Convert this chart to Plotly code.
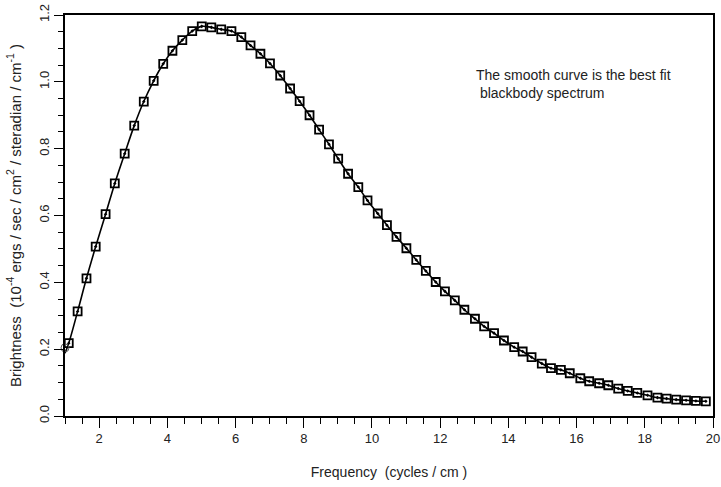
import plotly.graph_objects as go

# Measured spectrum (frequency in cycles/cm, brightness in 1e-4 erg/s/cm^2/sr/cm^-1)
freq = [1.11, 1.37, 1.63, 1.90, 2.19, 2.46, 2.75, 3.03, 3.31, 3.60,
        3.88, 4.15, 4.44, 4.73, 5.01, 5.29, 5.58, 5.88, 6.17, 6.44,
        6.73, 7.01, 7.31, 7.60, 7.88, 8.17, 8.45, 8.74, 9.01, 9.30,
        9.60, 9.87, 10.17, 10.44, 10.72, 11.01, 11.30, 11.58, 11.87, 12.14,
        12.43, 12.71, 13.02, 13.29, 13.58, 13.87, 14.17, 14.42, 14.68, 14.98,
        15.25, 15.54, 15.80, 16.11, 16.37, 16.66, 16.93, 17.22, 17.50, 17.78,
        18.08, 18.37, 18.64, 18.92, 19.21, 19.50, 19.79]
bright = [0.218, 0.313, 0.412, 0.507, 0.604, 0.696, 0.785, 0.869, 0.941, 1.003,
          1.054, 1.093, 1.125, 1.152, 1.166, 1.163, 1.157, 1.152, 1.134, 1.109,
          1.084, 1.055, 1.019, 0.980, 0.942, 0.900, 0.857, 0.813, 0.770, 0.725,
          0.685, 0.645, 0.606, 0.571, 0.536, 0.502, 0.467, 0.434, 0.401, 0.373,
          0.346, 0.318, 0.291, 0.268, 0.248, 0.226, 0.206, 0.193, 0.176, 0.157,
          0.143, 0.138, 0.128, 0.113, 0.104, 0.098, 0.092, 0.082, 0.075, 0.069,
          0.062, 0.055, 0.052, 0.049, 0.047, 0.045, 0.044]

# Best-fit smooth curve (starts at the axis)
fit_x = [1.0] + freq
fit_y = [0.188] + bright

# First point drawn as an open circle at the axis
first_x = [1.0]
first_y = [0.204]

xticks = [2, 4, 6, 8, 10, 12, 14, 16, 18, 20]
yticks = [0.0, 0.2, 0.4, 0.6, 0.8, 1.0, 1.2]

font_family = "Liberation Sans, Arial, sans-serif"

fig = go.Figure()
fig.add_trace(go.Scatter(x=fit_x, y=fit_y, mode="lines",
                         line=dict(color="black", width=1.6, shape="spline"),
                         showlegend=False, hoverinfo="skip"))
fig.add_trace(go.Scatter(x=freq, y=bright, mode="markers",
                         marker=dict(symbol="square-open-dot", size=8, color="black",
                                     line=dict(width=1.8, color="black")),
                         showlegend=False))
fig.add_trace(go.Scatter(x=first_x, y=first_y, mode="markers",
                         marker=dict(symbol="circle-open", size=8, color="#555555",
                                     line=dict(width=1)),
                         showlegend=False, cliponaxis=False))

fig.add_annotation(x=13.0, y=1.05, xref="x", yref="y", xanchor="left", yanchor="top",
                   text="The smooth curve is the best fit<br> blackbody spectrum",
                   showarrow=False, align="left",
                   font=dict(family=font_family, size=14, color="#222222"))

fig.update_layout(
    width=721, height=487,
    margin=dict(l=65, r=8, t=15, b=71, autoexpand=False),
    paper_bgcolor="white", plot_bgcolor="white",
    font=dict(family=font_family, size=13, color="#222222"),
    xaxis=dict(range=[1, 20], tickvals=xticks, ticktext=[str(v) for v in xticks],
               automargin=False,
               showgrid=False, zeroline=False,
               showline=True, linecolor="black", linewidth=1.5, mirror=True,
               ticks="outside", ticklen=10, tickwidth=1.3, tickcolor="black",
               minor=dict(dtick=0.5, tick0=0, ticks="outside", ticklen=6,
                          tickwidth=1.1, tickcolor="black", showgrid=False),
               tickfont=dict(size=13),
               title=dict(text="Frequency  (cycles / cm )", standoff=22,
                          font=dict(size=14))),
    yaxis=dict(range=[0, 1.2], tickvals=yticks, ticktext=[f"{v:.1f}" for v in yticks],
               tickangle=-90, automargin=False,
               showgrid=False, zeroline=False,
               showline=True, linecolor="black", linewidth=1.5, mirror=True,
               ticks="outside", ticklen=9, tickwidth=1.3, tickcolor="black",
               minor=dict(dtick=0.05, tick0=0, ticks="outside", ticklen=5,
                          tickwidth=1.1, tickcolor="black", showgrid=False),
               tickfont=dict(size=13),
               title=dict(text="Brightness  (10<sup>-4</sup> ergs / sec / cm<sup>2</sup> / steradian / cm<sup>-1</sup> )",
                          standoff=12, font=dict(size=15))),
)

fig.write_html("out.html")
